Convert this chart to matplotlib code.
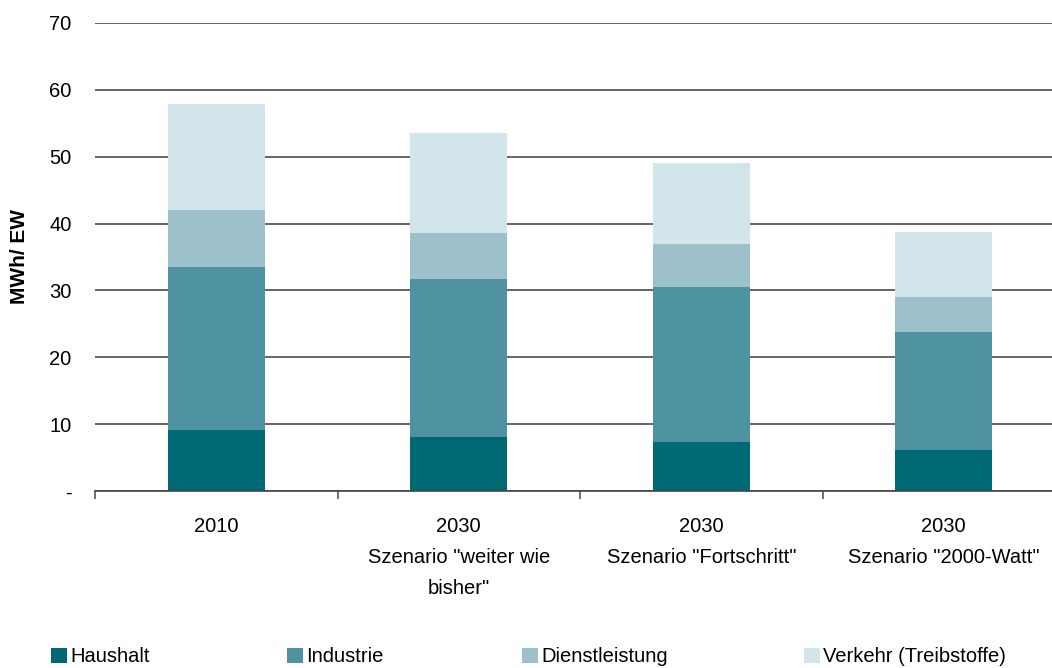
import numpy as np
import matplotlib.pyplot as plt
from matplotlib.patches import Patch

plt.rcParams["font.family"] = ["Liberation Sans", "DejaVu Sans"]

categories = ["2010", "2030\nSzenario \"weiter wie\nbisher\"",
              "2030\nSzenario \"Fortschritt\"", "2030\nSzenario \"2000-Watt\""]
series_names = ["Haushalt", "Industrie", "Dienstleistung", "Verkehr (Treibstoffe)"]
haushalt = [9.1, 8.1, 7.3, 6.1]
industrie = [24.4, 23.6, 23.2, 17.7]
dienstleistung = [8.5, 6.9, 6.4, 5.2]
verkehr = [15.9, 14.9, 12.2, 9.7]
y_ticks = [0, 10, 20, 30, 40, 50, 60, 70]
y_tick_labels = ["-", "10", "20", "30", "40", "50", "60", "70"]

colors = ["#006a74", "#4f93a3", "#9dc1ca", "#d1e5ea"]

W, H = 1052, 668
fig = plt.figure(figsize=(W / 100, H / 100), dpi=100)
# axes right edge runs past the figure so the last tick is cut off
ax = fig.add_axes([95 / W, 177 / H, (1065 - 95) / W, (491 - 23) / H])

x = np.arange(len(categories))
bottom = np.zeros(len(categories))
for vals, col, name in zip([haushalt, industrie, dienstleistung, verkehr], colors, series_names):
    ax.bar(x, vals, width=0.4, bottom=bottom, color=col, label=name, zorder=3)
    bottom += np.array(vals)

ax.set_xlim(-0.5, 3.5)
ax.set_ylim(0, 70)
ax.set_yticks(y_ticks)
ax.set_yticklabels(y_tick_labels, fontsize=14.5)
ax.yaxis.grid(True, color="#3c3c3c", linewidth=1.1, zorder=0)
ax.tick_params(axis="y", length=0, pad=17)

ax.set_xticks(x)
ax.set_xticklabels(categories, fontsize=14.5, linespacing=1.78)
ax.set_xticks(np.arange(-0.5, 4.0, 1.0), minor=True)
ax.tick_params(axis="x", which="major", length=0, pad=19)
ax.tick_params(axis="x", which="minor", length=6, width=1.2, color="#555555")

for side in ["left", "right", "top"]:
    ax.spines[side].set_visible(False)
ax.spines["bottom"].set_color("#444444")
ax.spines["bottom"].set_linewidth(1.2)
ax.spines["bottom"].set_zorder(4)

fig.text(20 / W, 1 - 257 / H, "MWh/ EW", rotation=90, fontsize=15, fontweight="bold",
         ha="center", va="center")

# legend entries sit at uneven offsets, one legend per series
legend_x = [51, 287, 522, 804]
for lx, col, name in zip(legend_x, colors, series_names):
    leg = fig.legend(handles=[Patch(facecolor=col, label=name)], loc="center left",
                     bbox_to_anchor=(lx / W, 1 - 657 / H), frameon=False, fontsize=14.5,
                     handlelength=0.8, handleheight=0.8, handletextpad=0.15,
                     borderaxespad=0, borderpad=0)

fig.savefig("out.png", dpi=100)
